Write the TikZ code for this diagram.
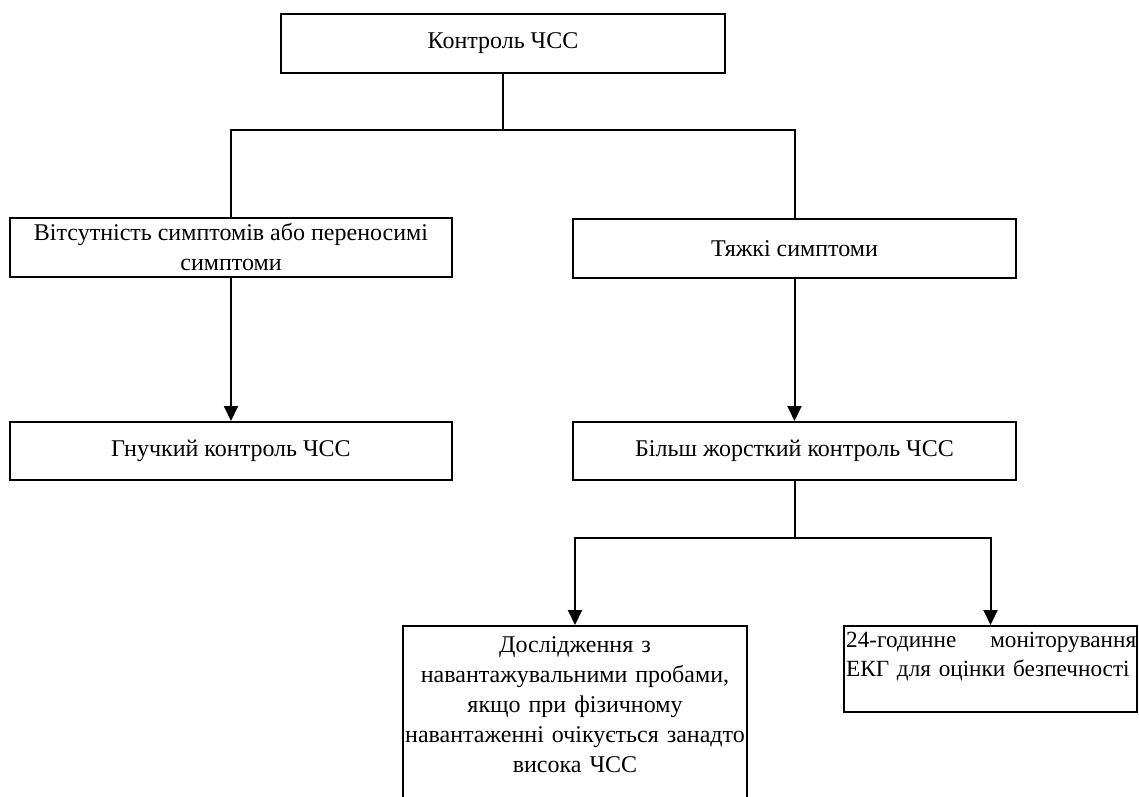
\documentclass[tikz,border=0pt]{standalone}
\usepackage{fontspec}
\setmainfont{Liberation Serif}
\usetikzlibrary{arrows.meta}
\begin{document}
\begin{tikzpicture}[x=1pt,y=-1pt,
  box/.style={draw, line width=2pt, inner sep=2pt, align=center,
    font=\fontsize{24}{30}\selectfont},
  txt/.style={inner sep=0pt, align=center, font=\fontsize{24}{30}\selectfont},
  conn/.style={line width=2pt},
  arr/.style={line width=2pt, -{Triangle[length=15pt,width=14pt]}}]
\useasboundingbox (0,0) rectangle (1139,796);
\clip (0,0) rectangle (1139,796);
\node[box, minimum width=444pt, minimum height=59pt] (top) at (503,43.5) {Контроль ЧСС};
\node[box, minimum width=442pt, minimum height=59pt] (l2l) at (231,247.5) {Вітсутність симптомів або переносимі\\симптоми};
\node[box, minimum width=443pt, minimum height=59pt] (l2r) at (794.5,248.5) {Тяжкі симптоми};
\node[box, minimum width=442pt, minimum height=58pt] (l3l) at (231,451) {Гнучкий контроль ЧСС};
\node[box, minimum width=443pt, minimum height=58pt] (l3r) at (794.5,451) {Більш жорсткий контроль ЧСС};
\node[box, minimum width=344pt, minimum height=180pt, anchor=north] (l4l) at (575,625) {};
\node[txt, text width=344pt, anchor=base] (l4lt) at (575,652)
  {Дослідження з\\навантажувальними пробами,\\якщо при фізичному\\навантаженні очікується занадто\\висока ЧСС};
\node[box, minimum width=293pt, minimum height=86pt, anchor=north] (l4r) at (990.5,625) {};
\node[txt, text width=290pt, align=left, anchor=base west, font=\fontsize{23.2}{29}\selectfont] (l4rt) at (846,647)
  {24-годинне\hfill моніторування\\ЕКГ для оцінки безпечності};
\coordinate (f1) at (503,130);
\coordinate (f2) at (794.5,538);
\draw[conn] (top.south) -- (f1);
\draw[conn] (f1) -| (l2l.north);
\draw[conn] (f1) -| (l2r.north);
\draw[arr] (l2l.south) -- (l3l.north);
\draw[arr] (l2r.south) -- (l3r.north);
\draw[conn] (l3r.south) -- (f2);
\draw[arr] (f2) -| (l4l.north);
\draw[arr] (f2) -| (l4r.north);
\end{tikzpicture}
\end{document}
